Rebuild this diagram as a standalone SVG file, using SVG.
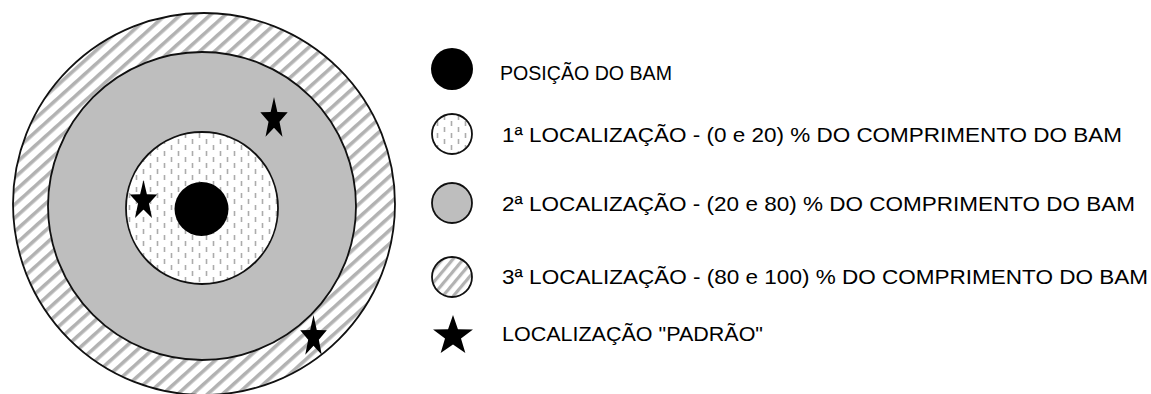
<svg xmlns="http://www.w3.org/2000/svg" width="1151" height="394" viewBox="0 0 1151 394">
<defs>
<pattern id="hatch" width="10" height="10" patternUnits="userSpaceOnUse" patternTransform="rotate(48)">
<rect width="10" height="10" fill="#ffffff"/>
<rect x="0" y="0" width="3.6" height="10" fill="#b2b2b2"/>
</pattern>
<pattern id="hatchS" width="8" height="8" patternUnits="userSpaceOnUse" patternTransform="rotate(40)">
<rect width="8" height="8" fill="#ffffff"/>
<rect x="0" y="0" width="3.2" height="8" fill="#b2b2b2"/>
</pattern>
<pattern id="dash" width="14" height="12" patternUnits="userSpaceOnUse">
<rect width="14" height="12" fill="#ffffff"/>
<line x1="3.5" y1="1" x2="3.5" y2="6" stroke="#acacac" stroke-width="1.6"/>
<line x1="10.5" y1="7" x2="10.5" y2="12" stroke="#acacac" stroke-width="1.6"/>
</pattern>
<path id="star" d="M0,-20 L4.7,-6.47 L19.02,-6.18 L7.61,2.47 L11.76,16.18 L0,8 L-11.76,16.18 L-7.61,2.47 L-19.02,-6.18 L-4.7,-6.47 Z" fill="#000000"/>
<style>
.ring{stroke:#111;stroke-width:1.8}
.lbl{font-family:"Liberation Sans",Arial,sans-serif;font-size:20.5px;fill:#000}
</style>
</defs>
<g id="target">
<circle cx="204" cy="204" r="191" fill="url(#hatch)" class="ring"/>
<circle cx="202" cy="206" r="154" fill="#bebebe" class="ring"/>
<circle cx="202" cy="208" r="76" fill="url(#dash)" class="ring"/>
<circle cx="201.5" cy="209" r="27" fill="#000"/>
<use href="#star" transform="translate(274,119) scale(0.72,1.1)"/>
<use href="#star" transform="translate(143.5,201) scale(0.72,1.05)"/>
<use href="#star" transform="translate(313.5,337) scale(0.7,1.1)"/>
</g>
<g id="legend-bam">
<circle cx="452" cy="69" r="21" fill="#000"/>
<text class="lbl" x="500" y="80" textLength="172" lengthAdjust="spacingAndGlyphs">POSIÇÃO DO BAM</text>
</g>
<g id="legend-1">
<circle cx="452" cy="134" r="20" fill="url(#dash)" class="ring"/>
<text class="lbl" x="502" y="142" textLength="620" lengthAdjust="spacingAndGlyphs">1ª LOCALIZAÇÃO - (0 e 20) % DO COMPRIMENTO DO BAM</text>
</g>
<g id="legend-2">
<circle cx="452" cy="203" r="20" fill="#bebebe" class="ring"/>
<text class="lbl" x="502" y="211" textLength="633" lengthAdjust="spacingAndGlyphs">2ª LOCALIZAÇÃO - (20 e 80) % DO COMPRIMENTO DO BAM</text>
</g>
<g id="legend-3">
<circle cx="452" cy="277" r="20" fill="url(#hatchS)" class="ring"/>
<text class="lbl" x="502" y="284" textLength="646" lengthAdjust="spacingAndGlyphs">3ª LOCALIZAÇÃO - (80 e 100) % DO COMPRIMENTO DO BAM</text>
</g>
<g id="legend-star">
<use href="#star" transform="translate(453,336) scale(1.05)"/>
<text class="lbl" x="502" y="341" textLength="261" lengthAdjust="spacingAndGlyphs">LOCALIZAÇÃO "PADRÃO"</text>
</g>
<g id="connectors"></g>
</svg>
